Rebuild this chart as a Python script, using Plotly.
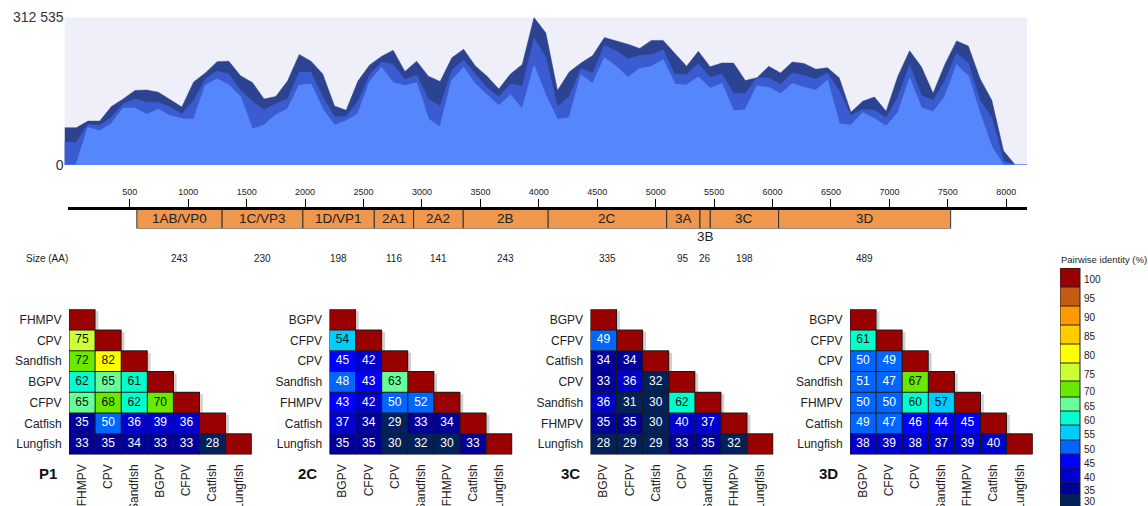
import plotly.graph_objects as go

W, H = 1148, 506
FONT = "Liberation Sans, Arial, sans-serif"


def fx(p):
    return p / W


def fy(p):
    return 1 - p / H


# ---------------- top coverage chart (values in thousands) ----------------
window = list(range(83))
depth_all = [79, 79, 93, 93, 124, 140, 158, 159, 154, 138,
             123, 176, 195, 219, 220, 189, 175, 140, 145, 178,
             234, 220, 193, 125, 116, 178, 212, 230, 243, 198,
             220, 188, 177, 227, 245, 210, 188, 161, 193, 213,
             312.5, 280, 158, 197, 216, 232, 270, 263, 256, 247,
             264, 264, 237, 209, 241, 208, 216, 216, 179, 185,
             209, 195, 218, 215, 203, 206, 185, 112, 135, 144,
             114, 188, 242, 208, 152, 213, 263, 252, 183, 137,
             30, 0, 0]
depth_mid = [48, 48, 86, 84, 101, 130, 140, 133, 133, 123,
             108, 137, 182, 199, 193, 158, 135, 117, 130, 140,
             197, 197, 144, 103, 103, 135, 191, 218, 213, 181,
             191, 140, 125, 202, 222, 192, 164, 144, 172, 167,
             269, 229, 124, 145, 204, 195, 254, 242, 225, 232,
             234, 244, 192, 192, 215, 186, 193, 152, 152, 185,
             185, 171, 195, 190, 182, 195, 158, 105, 118, 116,
             100, 144, 213, 147, 137, 179, 237, 216, 137, 101,
             9, 0, 0]
depth_low = [0, 0, 79, 72, 87, 120, 120, 107, 117, 104,
             98, 96, 168, 182, 169, 144, 76, 84, 106, 118,
             169, 171, 118, 84, 93, 108, 176, 206, 174, 168,
             174, 97, 80, 179, 206, 171, 148, 125, 148, 118,
             210, 147, 96, 100, 190, 172, 227, 208, 185, 204,
             208, 223, 171, 169, 186, 162, 172, 114, 117, 167,
             164, 150, 172, 164, 158, 179, 87, 84, 110, 98,
             82, 110, 183, 121, 112, 144, 211, 188, 108, 38,
             0, 0, 0]
depth_max = 312.535
depth_ticktext = ["0", "312 535"]

# ---------------- genome map ----------------
ruler_ticks = list(range(500, 8001, 500))
gene_names = ["1AB/VP0", "1C/VP3", "1D/VP1", "2A1", "2A2", "2B", "2C", "3A", "3B", "3C", "3D"]
gene_bounds = [560, 1290, 1981, 2592, 2928, 3353, 4080, 5094, 5379, 5467, 6052, 7524]
gene_size_aa = [243, 230, 198, 116, 141, 243, 335, 95, 26, 198, 489]

# ---------------- pairwise identity panels ----------------
p1_names = ["FHMPV", "CPV", "Sandfish", "BGPV", "CFPV", "Catfish", "Lungfish"]
p1_vals = [[100],
           [75, 100],
           [72, 82, 100],
           [62, 65, 61, 100],
           [65, 68, 62, 70, 100],
           [35, 50, 36, 39, 36, 100],
           [33, 35, 34, 33, 33, 28, 100]]
c2_names = ["BGPV", "CFPV", "CPV", "Sandfish", "FHMPV", "Catfish", "Lungfish"]
c2_vals = [[100],
           [54, 100],
           [45, 42, 100],
           [48, 43, 63, 100],
           [43, 42, 50, 52, 100],
           [37, 34, 29, 33, 34, 100],
           [35, 35, 30, 32, 30, 33, 100]]
c3_names = ["BGPV", "CFPV", "Catfish", "CPV", "Sandfish", "FHMPV", "Lungfish"]
c3_vals = [[100],
           [49, 100],
           [34, 34, 100],
           [33, 36, 32, 100],
           [36, 31, 30, 62, 100],
           [35, 35, 30, 40, 37, 100],
           [28, 29, 29, 33, 35, 32, 100]]
d3_names = ["BGPV", "CFPV", "CPV", "Sandfish", "FHMPV", "Catfish", "Lungfish"]
d3_vals = [[100],
           [61, 100],
           [50, 49, 100],
           [51, 47, 67, 100],
           [50, 50, 60, 57, 100],
           [49, 47, 46, 44, 45, 100],
           [38, 39, 38, 37, 39, 40, 100]]
panel_titles = ["P1", "2C", "3C", "3D"]

legend_values = [100, 95, 90, 85, 80, 75, 70, 65, 60, 55, 50, 45, 40, 35, 30]

# ---------------- styles ----------------
ZMIN, ZMAX = 27.5, 102.5
bin_edges = [27.5, 32.5, 35.5, 42.5, 46.5, 52.5, 57.5, 62.5, 66.5, 72.5, 77.5, 82.5, 87.5, 92.5, 97.5, 102.5]
bin_colors = ["#00215A", "#000099", "#0000CC", "#0000FF", "#0066FF", "#00CCFF", "#00FFCC",
              "#66FF99", "#6AE800", "#CCFF33", "#FFFF00", "#FFCC00", "#FF9900", "#C55A11", "#990000"]
colorscale = []
for i, c in enumerate(bin_colors):
    a = (bin_edges[i] - ZMIN) / (ZMAX - ZMIN)
    b = (bin_edges[i + 1] - ZMIN) / (ZMAX - ZMIN)
    colorscale += [[a, c], [b, c]]

fig = go.Figure()

# ---- coverage areas ----
for ys, col, lw in [(depth_all, "#2B4391", 0.5), (depth_mid, "#3B5CD0", 0.5), (depth_low, "#5586FB", 1.2)]:
    fig.add_trace(go.Scatter(x=window, y=ys, mode="lines", fill="tozeroy",
                             fillcolor=col, line=dict(color=col, width=lw),
                             xaxis="x", yaxis="y", hoverinfo="skip", showlegend=False))

layout = dict(
    width=W, height=H, margin=dict(l=0, r=0, t=0, b=0, autoexpand=False),
    paper_bgcolor="white", plot_bgcolor="white",
    font=dict(family=FONT, color="#222"),
    showlegend=False,
)
layout["xaxis"] = dict(domain=[fx(64.5), fx(1027)], range=[0, 82], visible=False)
layout["yaxis"] = dict(domain=[fy(165), fy(17.5)], range=[0, depth_max], anchor="x",
                       tickvals=[0, depth_max], ticktext=depth_ticktext, showgrid=False,
                       zeroline=False, ticks="", tickfont=dict(size=14, color="#333"))
shapes = [dict(type="rect", xref="x domain", yref="y domain", x0=0, x1=1, y0=0, y1=1,
               fillcolor="#EFEFFA", line=dict(width=0), layer="below")]
annotations = []

# ---- genome ruler & genes ----
px_per_nt = 0.11686
nt0_px = 71.4
layout["xaxis2"] = dict(domain=[fx(68), fx(1027)],
                        range=[(68 - nt0_px) / px_per_nt, (1027 - nt0_px) / px_per_nt],
                        anchor="y2", side="top", showline=True, linewidth=3, linecolor="black",
                        ticks="outside", ticklen=8, tickwidth=1, tickcolor="black",
                        tickvals=ruler_ticks, tickfont=dict(size=9, color="#222"),
                        showgrid=False, zeroline=False)
layout["yaxis2"] = dict(domain=[fy(228.5), fy(209.5)], range=[0, 1], visible=False, anchor="x2")
starts = gene_bounds[:-1]
widths = [gene_bounds[i + 1] - gene_bounds[i] for i in range(len(starts))]
fig.add_trace(go.Bar(x=widths, base=starts, y=[0.5] * len(starts), orientation="h", width=1,
                     marker=dict(color="#EF974D", line=dict(color="#333", width=1)),
                     xaxis="x2", yaxis="y2", hoverinfo="skip", showlegend=False))
for name, s, w, aa in zip(gene_names, starts, widths, gene_size_aa):
    c = s + w / 2
    narrow = w < 150
    annotations.append(dict(x=c, y=0.5, xref="x2", yref="y2", text=name, showarrow=False,
                            xanchor="center", yanchor="middle",
                            yshift=-18 if narrow else 0, font=dict(size=13.5, color="#222")))
    annotations.append(dict(x=c, y=fy(258), xref="x2", yref="paper", text=str(aa), showarrow=False,
                            xanchor="center", yanchor="middle", font=dict(size=10, color="#222")))
annotations.append(dict(x=fx(24), y=fy(258), xref="paper", yref="paper", text="Size (AA)",
                        showarrow=False, xanchor="left", yanchor="middle", font=dict(size=10, color="#222")))

# ---- heatmap panels ----
panels = [(p1_names, p1_vals), (c2_names, c2_vals), (c3_names, c3_vals), (d3_names, d3_vals)]
panel_left = [69, 329.5, 590.5, 850]
panel_title_x = [48, 307, 570, 828]
cell_w = 26.1
cell_h = (454.5 - 309.3) / 7
n = 7
for k, ((names, vals), left, title, tx) in enumerate(zip(panels, panel_left, panel_titles, panel_title_x)):
    ax = k + 3
    xa, ya = f"x{ax}", f"y{ax}"
    z = [[vals[i][j] if j <= i else None for j in range(n)] for i in range(n)]
    # soft shadow along the outer staircase edge
    sdx, sdy = 2.0 / cell_w, 2.0 / cell_h
    shx, shy = [], []
    for m in range(n):
        shx += [m + 0.5 + sdx, m + 0.5 + sdx, None]
        shy += [m - 0.5 + sdy, m + 0.5 + (sdy if m == n - 1 else 0), None]
    shx += [-0.5 + sdx, n - 0.5 + sdx]
    shy += [n - 0.5 + sdy, n - 0.5 + sdy]
    fig.add_trace(go.Scatter(x=shx, y=shy, mode="lines", line=dict(color="#cfcfcf", width=2.5),
                             xaxis=xa, yaxis=ya, hoverinfo="skip", showlegend=False))
    fig.add_trace(go.Heatmap(z=z, x=list(range(n)), y=list(range(n)), colorscale=colorscale,
                             zmin=ZMIN, zmax=ZMAX, showscale=False, hoverinfo="skip",
                             xaxis=xa, yaxis=ya))
    tx_, ty_, tt, tc = [], [], [], []
    for i in range(n):
        for j in range(i):
            v = vals[i][j]
            tx_.append(j)
            ty_.append(i)
            tt.append(str(v))
            tc.append("#111" if v >= 53 else "white")
    fig.add_trace(go.Scatter(x=tx_, y=ty_, text=tt, mode="text",
                             textfont=dict(size=12, color=tc, family=FONT),
                             xaxis=xa, yaxis=ya, hoverinfo="skip", showlegend=False))
    gx, gy = [], []
    for m in range(n + 1):
        gx += [-0.5, min(m, n - 1) + 0.5, None]
        gy += [m - 0.5, m - 0.5, None]
        gx += [m - 0.5, m - 0.5, None]
        gy += [max(m - 1, 0) - 0.5, n - 0.5, None]
    fig.add_trace(go.Scatter(x=gx, y=gy, mode="lines", line=dict(color="#1a1a1a", width=1),
                             xaxis=xa, yaxis=ya, hoverinfo="skip", showlegend=False))
    layout[f"xaxis{ax}"] = dict(domain=[fx(left), fx(left + cell_w * n)], range=[-0.5, n - 0.5],
                                anchor=ya, tickvals=list(range(n)), ticktext=names, tickangle=-90,
                                ticks="outside", ticklen=4, tickcolor="rgba(0,0,0,0)",
                                showgrid=False, zeroline=False, showline=False,
                                tickfont=dict(size=12, color="#222"))
    layout[f"yaxis{ax}"] = dict(domain=[fy(454.5), fy(309.3)], range=[n - 0.5, -0.5],
                                anchor=xa, tickvals=list(range(n)), ticktext=names,
                                ticks="outside", ticklen=4, tickcolor="rgba(0,0,0,0)",
                                showgrid=False, zeroline=False, showline=False,
                                tickfont=dict(size=12, color="#222"))
    annotations.append(dict(x=fx(tx), y=fy(473), xref="paper", yref="paper", text=f"<b>{title}</b>",
                            showarrow=False, xanchor="center", yanchor="middle",
                            font=dict(size=15, color="#111")))

# ---- legend colour key (1 x-unit = block width of 20 px) ----
leg_edges = [268, 287, 306, 325, 344, 363, 381, 397, 411, 425, 440, 454, 468, 482, 495, 509]
leg_label_drop = 3
leg_centers = [(leg_edges[i] + leg_edges[i + 1]) / 2 for i in range(len(legend_values))]
fig.add_trace(go.Heatmap(z=[[v] for v in legend_values], x=[0, 1], y=leg_edges,
                         colorscale=colorscale, zmin=ZMIN, zmax=ZMAX, showscale=False,
                         hoverinfo="skip", xaxis="x7", yaxis="y7"))
lx, ly = [], []
for e in leg_edges:
    lx += [0, 1, None]
    ly += [e, e, None]
for xv in (0, 1):
    lx += [xv, xv, None]
    ly += [leg_edges[0], leg_edges[-1], None]
fig.add_trace(go.Scatter(x=lx, y=ly, mode="lines", line=dict(color="#222", width=1),
                         xaxis="x7", yaxis="y7", hoverinfo="skip", showlegend=False))
fig.add_trace(go.Scatter(x=[1.2] * len(legend_values),
                         y=[min(c + leg_label_drop, 502) for c in leg_centers],
                         text=[str(v) for v in legend_values], mode="text", textposition="middle right",
                         textfont=dict(size=10, color="#222", family=FONT), cliponaxis=False,
                         xaxis="x7", yaxis="y7", hoverinfo="skip", showlegend=False))
layout["xaxis7"] = dict(domain=[fx(1060), fx(1120)], range=[0, 3], visible=False, anchor="y7")
layout["yaxis7"] = dict(domain=[0, fy(268)], range=[506, 268], anchor="x7", visible=False)
annotations.append(dict(x=fx(1059), y=fy(259), xref="paper", yref="paper", xanchor="left",
                        yanchor="middle", text="Pairwise identity (%)", showarrow=False,
                        font=dict(size=9.5, color="#222")))

layout["shapes"] = shapes
layout["annotations"] = annotations
fig.update_layout(**layout)
fig.write_html("out.html", config={"displayModeBar": False},
               post_script="document.body.style.margin='0';document.body.style.overflow='hidden';")
